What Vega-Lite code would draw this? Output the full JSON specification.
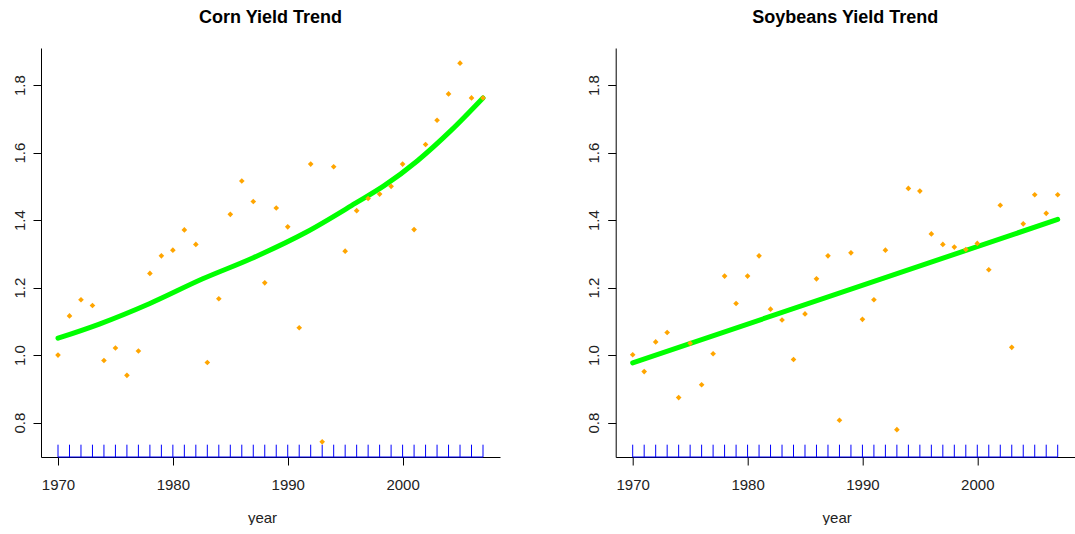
{
  "$schema": "https://vega.github.io/schema/vega-lite/v6.json",
  "background": "white",
  "padding": {"left": 12, "top": 9, "right": 0, "bottom": 0},
  "spacing": 115.7,
  "bounds": "flush",
  "datasets": {
    "corn": [
      {"year": 1970, "yield": 1.000}, {"year": 1971, "yield": 1.116}, {"year": 1972, "yield": 1.164}, {"year": 1973, "yield": 1.147},
      {"year": 1974, "yield": 0.984}, {"year": 1975, "yield": 1.021}, {"year": 1976, "yield": 0.940}, {"year": 1977, "yield": 1.012},
      {"year": 1978, "yield": 1.242}, {"year": 1979, "yield": 1.294}, {"year": 1980, "yield": 1.311}, {"year": 1981, "yield": 1.371},
      {"year": 1982, "yield": 1.328}, {"year": 1983, "yield": 0.978}, {"year": 1984, "yield": 1.167}, {"year": 1985, "yield": 1.417},
      {"year": 1986, "yield": 1.516}, {"year": 1987, "yield": 1.455}, {"year": 1988, "yield": 1.214}, {"year": 1989, "yield": 1.436},
      {"year": 1990, "yield": 1.380}, {"year": 1991, "yield": 1.081}, {"year": 1992, "yield": 1.566}, {"year": 1993, "yield": 0.743},
      {"year": 1994, "yield": 1.558}, {"year": 1995, "yield": 1.308}, {"year": 1996, "yield": 1.428}, {"year": 1997, "yield": 1.464},
      {"year": 1998, "yield": 1.477}, {"year": 1999, "yield": 1.500}, {"year": 2000, "yield": 1.566}, {"year": 2001, "yield": 1.372},
      {"year": 2002, "yield": 1.624}, {"year": 2003, "yield": 1.696}, {"year": 2004, "yield": 1.774}, {"year": 2005, "yield": 1.865},
      {"year": 2006, "yield": 1.762}, {"year": 2007, "yield": 1.762}
    ],
    "cornfit": [
      {"year": 1970.0, "trend": 1.050}, {"year": 1973.6, "trend": 1.092}, {"year": 1978.0, "trend": 1.153},
      {"year": 1982.6, "trend": 1.226}, {"year": 1986.9, "trend": 1.287}, {"year": 1991.6, "trend": 1.364},
      {"year": 1995.9, "trend": 1.450}, {"year": 1998.4, "trend": 1.502}, {"year": 2001.3, "trend": 1.576},
      {"year": 2004.2, "trend": 1.665}, {"year": 2007.0, "trend": 1.762}
    ],
    "soy": [
      {"year": 1970, "yield": 1.001}, {"year": 1971, "yield": 0.951}, {"year": 1972, "yield": 1.039}, {"year": 1973, "yield": 1.067},
      {"year": 1974, "yield": 0.874}, {"year": 1975, "yield": 1.035}, {"year": 1976, "yield": 0.912}, {"year": 1977, "yield": 1.004},
      {"year": 1978, "yield": 1.234}, {"year": 1979, "yield": 1.153}, {"year": 1980, "yield": 1.234}, {"year": 1981, "yield": 1.294},
      {"year": 1982, "yield": 1.136}, {"year": 1983, "yield": 1.104}, {"year": 1984, "yield": 0.987}, {"year": 1985, "yield": 1.122},
      {"year": 1986, "yield": 1.226}, {"year": 1987, "yield": 1.294}, {"year": 1988, "yield": 0.807}, {"year": 1989, "yield": 1.303},
      {"year": 1990, "yield": 1.106}, {"year": 1991, "yield": 1.164}, {"year": 1992, "yield": 1.311}, {"year": 1993, "yield": 0.779},
      {"year": 1994, "yield": 1.494}, {"year": 1995, "yield": 1.486}, {"year": 1996, "yield": 1.359}, {"year": 1997, "yield": 1.328},
      {"year": 1998, "yield": 1.320}, {"year": 1999, "yield": 1.313}, {"year": 2000, "yield": 1.331}, {"year": 2001, "yield": 1.253},
      {"year": 2002, "yield": 1.444}, {"year": 2003, "yield": 1.023}, {"year": 2004, "yield": 1.389}, {"year": 2005, "yield": 1.475},
      {"year": 2006, "yield": 1.420}, {"year": 2007, "yield": 1.475}
    ],
    "soyfit": [
      {"year": 1970, "trend": 0.977}, {"year": 2007, "trend": 1.402}
    ]
  },
  "hconcat": [
    {
      "width": 459,
      "height": 409,
      "title": {"text": "Corn Yield Trend"},
      "layer": [
        {
          "data": {"name": "corn"},
          "mark": {"type": "rule", "color": "#0000FF", "strokeWidth": 1},
          "encoding": {
            "x": {"field": "year", "type": "quantitative", "title": "year", "scale": {"domain": [1968.52, 2008.48], "nice": false, "zero": false}, "axis": {"values": [1970, 1980, 1990, 2000], "format": "d"}},
            "y": {"datum": 0.698, "type": "quantitative", "title": null, "scale": {"domain": [0.698, 1.91], "nice": false, "zero": false}, "axis": {"values": [0.8, 1.0, 1.2, 1.4, 1.6, 1.8], "format": ".1f"}},
            "y2": {"datum": 0.7345}
          }
        },
        {
          "data": {"name": "corn"},
          "mark": {"type": "rule", "color": "#0000FF", "strokeWidth": 1},
          "encoding": {
            "x": {"aggregate": "min", "field": "year", "type": "quantitative", "title": "year"},
            "x2": {"aggregate": "max", "field": "year"},
            "y": {"datum": 0.698, "type": "quantitative", "title": null}
          }
        },
        {
          "data": {"name": "cornfit"},
          "mark": {"type": "line", "color": "#00FF00", "strokeWidth": 5, "strokeCap": "round", "strokeJoin": "round", "interpolate": "monotone"},
          "encoding": {
            "x": {"field": "year", "type": "quantitative", "title": "year"},
            "y": {"field": "trend", "type": "quantitative", "title": null}
          }
        },
        {
          "data": {"name": "corn"},
          "mark": {"type": "point", "shape": "diamond", "filled": true, "color": "#FFA500", "size": 32, "opacity": 1},
          "encoding": {
            "x": {"field": "year", "type": "quantitative", "title": "year"},
            "y": {"field": "yield", "type": "quantitative", "title": null}
          }
        }
      ]
    },
    {
      "width": 459,
      "height": 409,
      "title": {"text": "Soybeans Yield Trend"},
      "layer": [
        {
          "data": {"name": "soy"},
          "mark": {"type": "rule", "color": "#0000FF", "strokeWidth": 1},
          "encoding": {
            "x": {"field": "year", "type": "quantitative", "title": "year", "scale": {"domain": [1968.52, 2008.48], "nice": false, "zero": false}, "axis": {"values": [1970, 1980, 1990, 2000], "format": "d"}},
            "y": {"datum": 0.698, "type": "quantitative", "title": null, "scale": {"domain": [0.698, 1.91], "nice": false, "zero": false}, "axis": {"values": [0.8, 1.0, 1.2, 1.4, 1.6, 1.8], "format": ".1f"}},
            "y2": {"datum": 0.7345}
          }
        },
        {
          "data": {"name": "soy"},
          "mark": {"type": "rule", "color": "#0000FF", "strokeWidth": 1},
          "encoding": {
            "x": {"aggregate": "min", "field": "year", "type": "quantitative", "title": "year"},
            "x2": {"aggregate": "max", "field": "year"},
            "y": {"datum": 0.698, "type": "quantitative", "title": null}
          }
        },
        {
          "data": {"name": "soyfit"},
          "mark": {"type": "line", "color": "#00FF00", "strokeWidth": 5, "strokeCap": "round"},
          "encoding": {
            "x": {"field": "year", "type": "quantitative", "title": "year"},
            "y": {"field": "trend", "type": "quantitative", "title": null}
          }
        },
        {
          "data": {"name": "soy"},
          "mark": {"type": "point", "shape": "diamond", "filled": true, "color": "#FFA500", "size": 32, "opacity": 1},
          "encoding": {
            "x": {"field": "year", "type": "quantitative", "title": "year"},
            "y": {"field": "yield", "type": "quantitative", "title": null}
          }
        }
      ]
    }
  ],
  "resolve": {"scale": {"x": "independent", "y": "independent"}},
  "config": {
    "font": "Liberation Sans",
    "view": {"stroke": null},
    "title": {"fontSize": 18, "fontWeight": "bold", "font": "Liberation Sans", "color": "#000000", "anchor": "middle", "offset": 21},
    "axisX": {
      "domainColor": "#000000", "tickColor": "#000000", "grid": false, "tickSize": 8,
      "labelFontSize": 15, "labelColor": "#222222", "labelPadding": 12,
      "titleFontSize": 15, "titleFontWeight": "normal", "titleColor": "#222222",
      "titleBaseline": "alphabetic", "titleY": 65, "titleX": 221
    },
    "axisY": {
      "domainColor": "#000000", "tickColor": "#000000", "grid": false, "tickSize": 8,
      "labelFontSize": 15, "labelColor": "#222222", "labelAngle": 270,
      "labelAlign": "center", "labelBaseline": "alphabetic", "labelPadding": 9
    },
    "point": {"strokeWidth": 0}
  }
}
